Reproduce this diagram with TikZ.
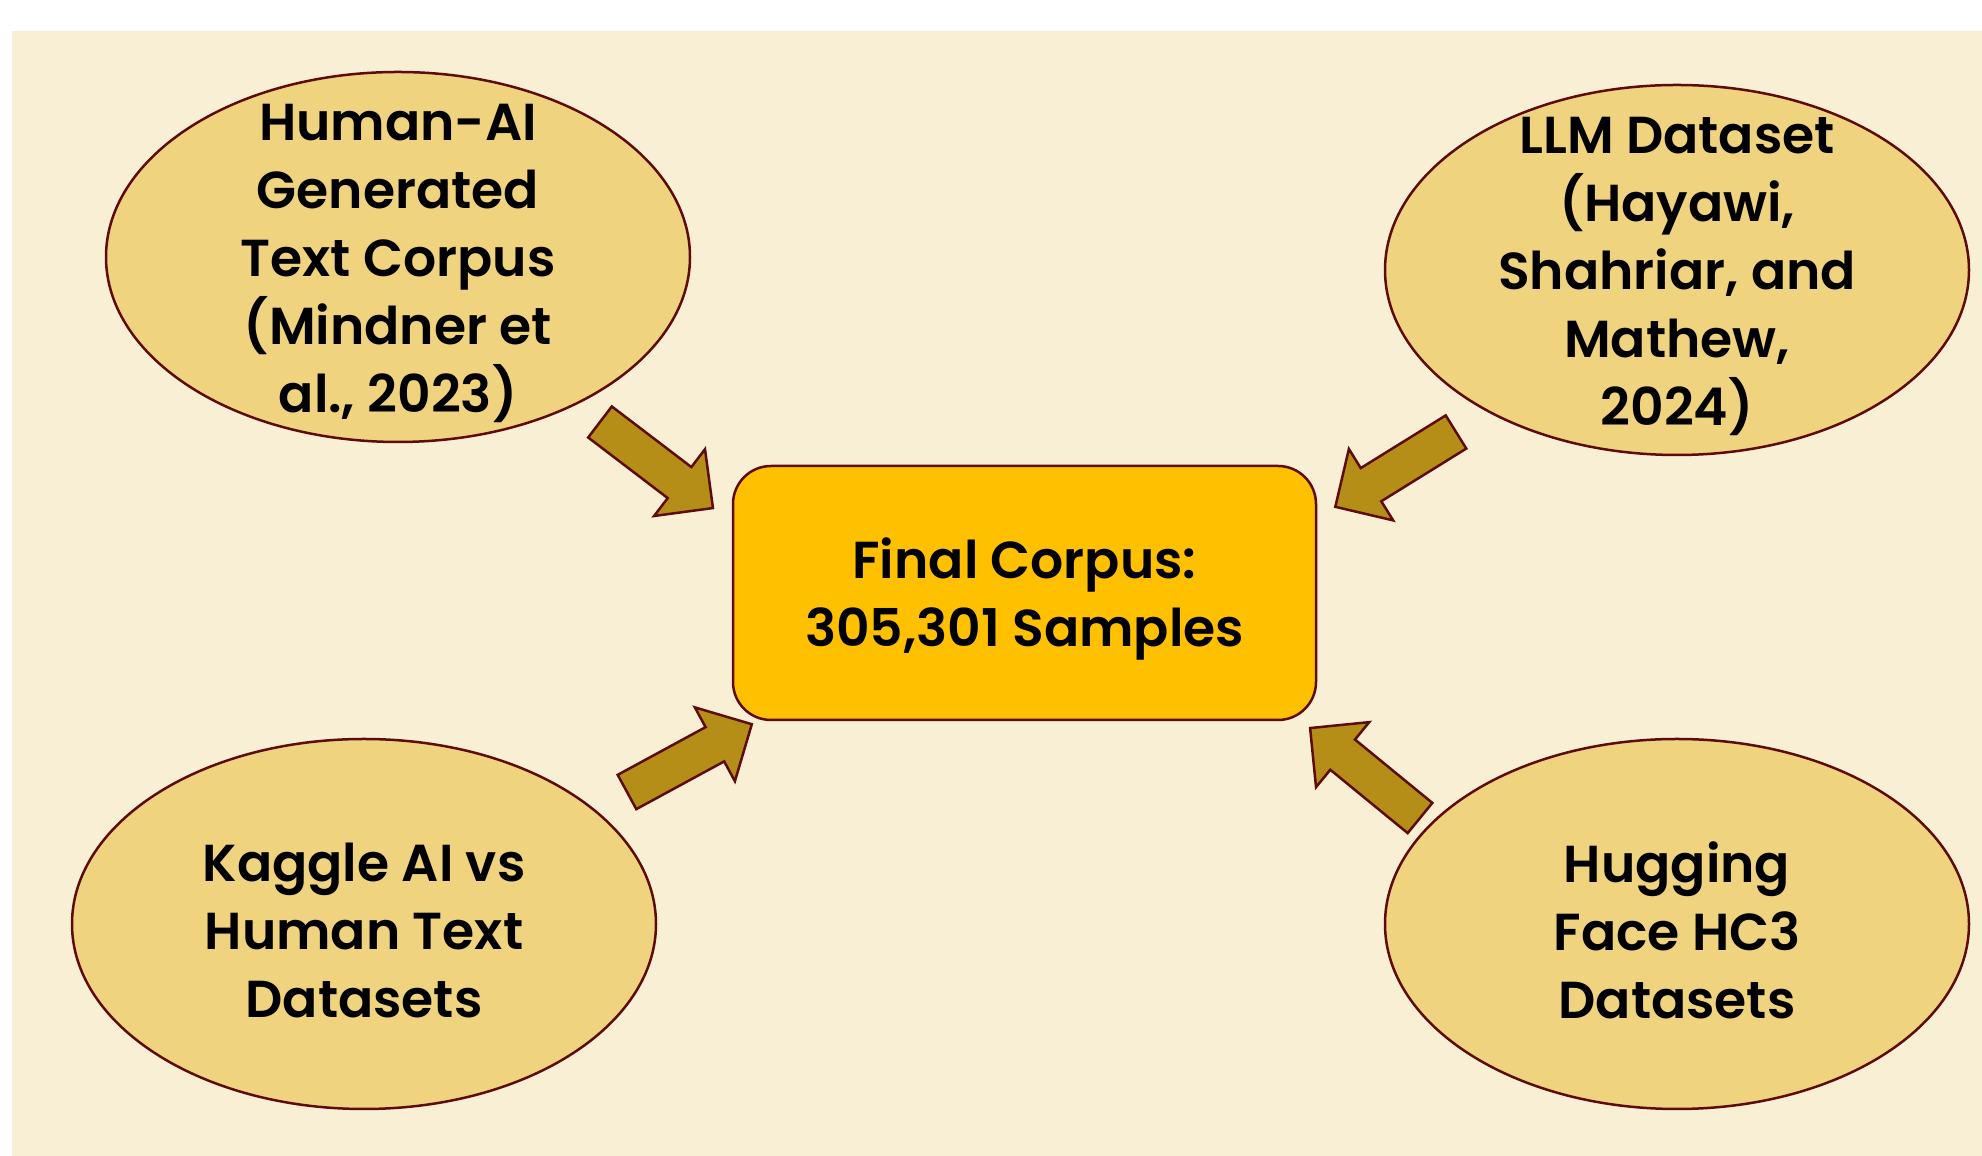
\documentclass[tikz,border=0pt]{standalone}
\usepackage{fontspec}
\setmainfont{Poppins}[BoldFont={Poppins SemiBold}]
\usetikzlibrary{shapes.geometric}
\definecolor{bgc}{HTML}{F9EFD5}
\definecolor{ellc}{HTML}{EFD37F}
\definecolor{boxc}{HTML}{FFC000}
\definecolor{arrc}{HTML}{B58E18}
\definecolor{outl}{HTML}{5E0B0B}
\tikzset{
  src/.style={ellipse, draw=outl, fill=ellc, line width=2.5pt, minimum width=584pt, minimum height=370pt, inner sep=0pt},
  txt/.style={align=center, font=\fontsize{52}{68}\selectfont\bfseries, text=black, yshift=-6pt},
  final/.style={rectangle, rounded corners=38pt, draw=outl, fill=boxc, line width=2.5pt, minimum width=583pt, minimum height=254pt, inner sep=0pt},
  blockarrow/.style={draw=outl, fill=arrc, line width=2.5pt, line join=miter}
}
\newcommand{\blockarrowshape}{(0,-19.5) -- (100,-19.5) -- (100,-42) -- (142,0) -- (100,42) -- (100,19.5) -- (0,19.5) -- cycle}
\begin{document}
\begin{tikzpicture}[x=1pt,y=1pt]
\useasboundingbox (0,0) rectangle (1982,1156);
\fill[bgc] (12,0) rectangle (1982,1125);
\node[src] (e1) at (398,899) {};
\node[src] (e2) at (1677,886) {};
\node[src] (e3) at (364,232) {};
\node[src] (e4) at (1677,232) {};
\node[final] (fc) at (1024.5,563) {};
\node[txt] (t1) at (e1.center) {Human-AI\\Generated\\Text Corpus\\(Mindner et\\al., 2023)};
\node[txt] (t2) at (e2.center) {LLM Dataset\\(Hayawi,\\Shahriar, and\\Mathew,\\2024)};
\node[txt] (t3) at (e3.center) {Kaggle AI vs\\Human Text\\Datasets};
\node[txt] (t4) at (e4.center) {Hugging\\Face HC3\\Datasets};
\node[txt] (tf) at (fc.center) {Final Corpus:\\305,301 Samples};
\coordinate (a1) at (600,734);
\coordinate (a2) at (1456,724);
\coordinate (a3) at (627,364);
\coordinate (a4) at (1420,338);
\draw[blockarrow, shift={(a1)}, rotate=-37.3] \blockarrowshape;
\draw[blockarrow, shift={(a2)}, rotate=211.8] \blockarrowshape;
\draw[blockarrow, shift={(a3)}, rotate=28.5] \blockarrowshape;
\draw[blockarrow, shift={(a4)}, rotate=140.7] \blockarrowshape;
\end{tikzpicture}
\end{document}
